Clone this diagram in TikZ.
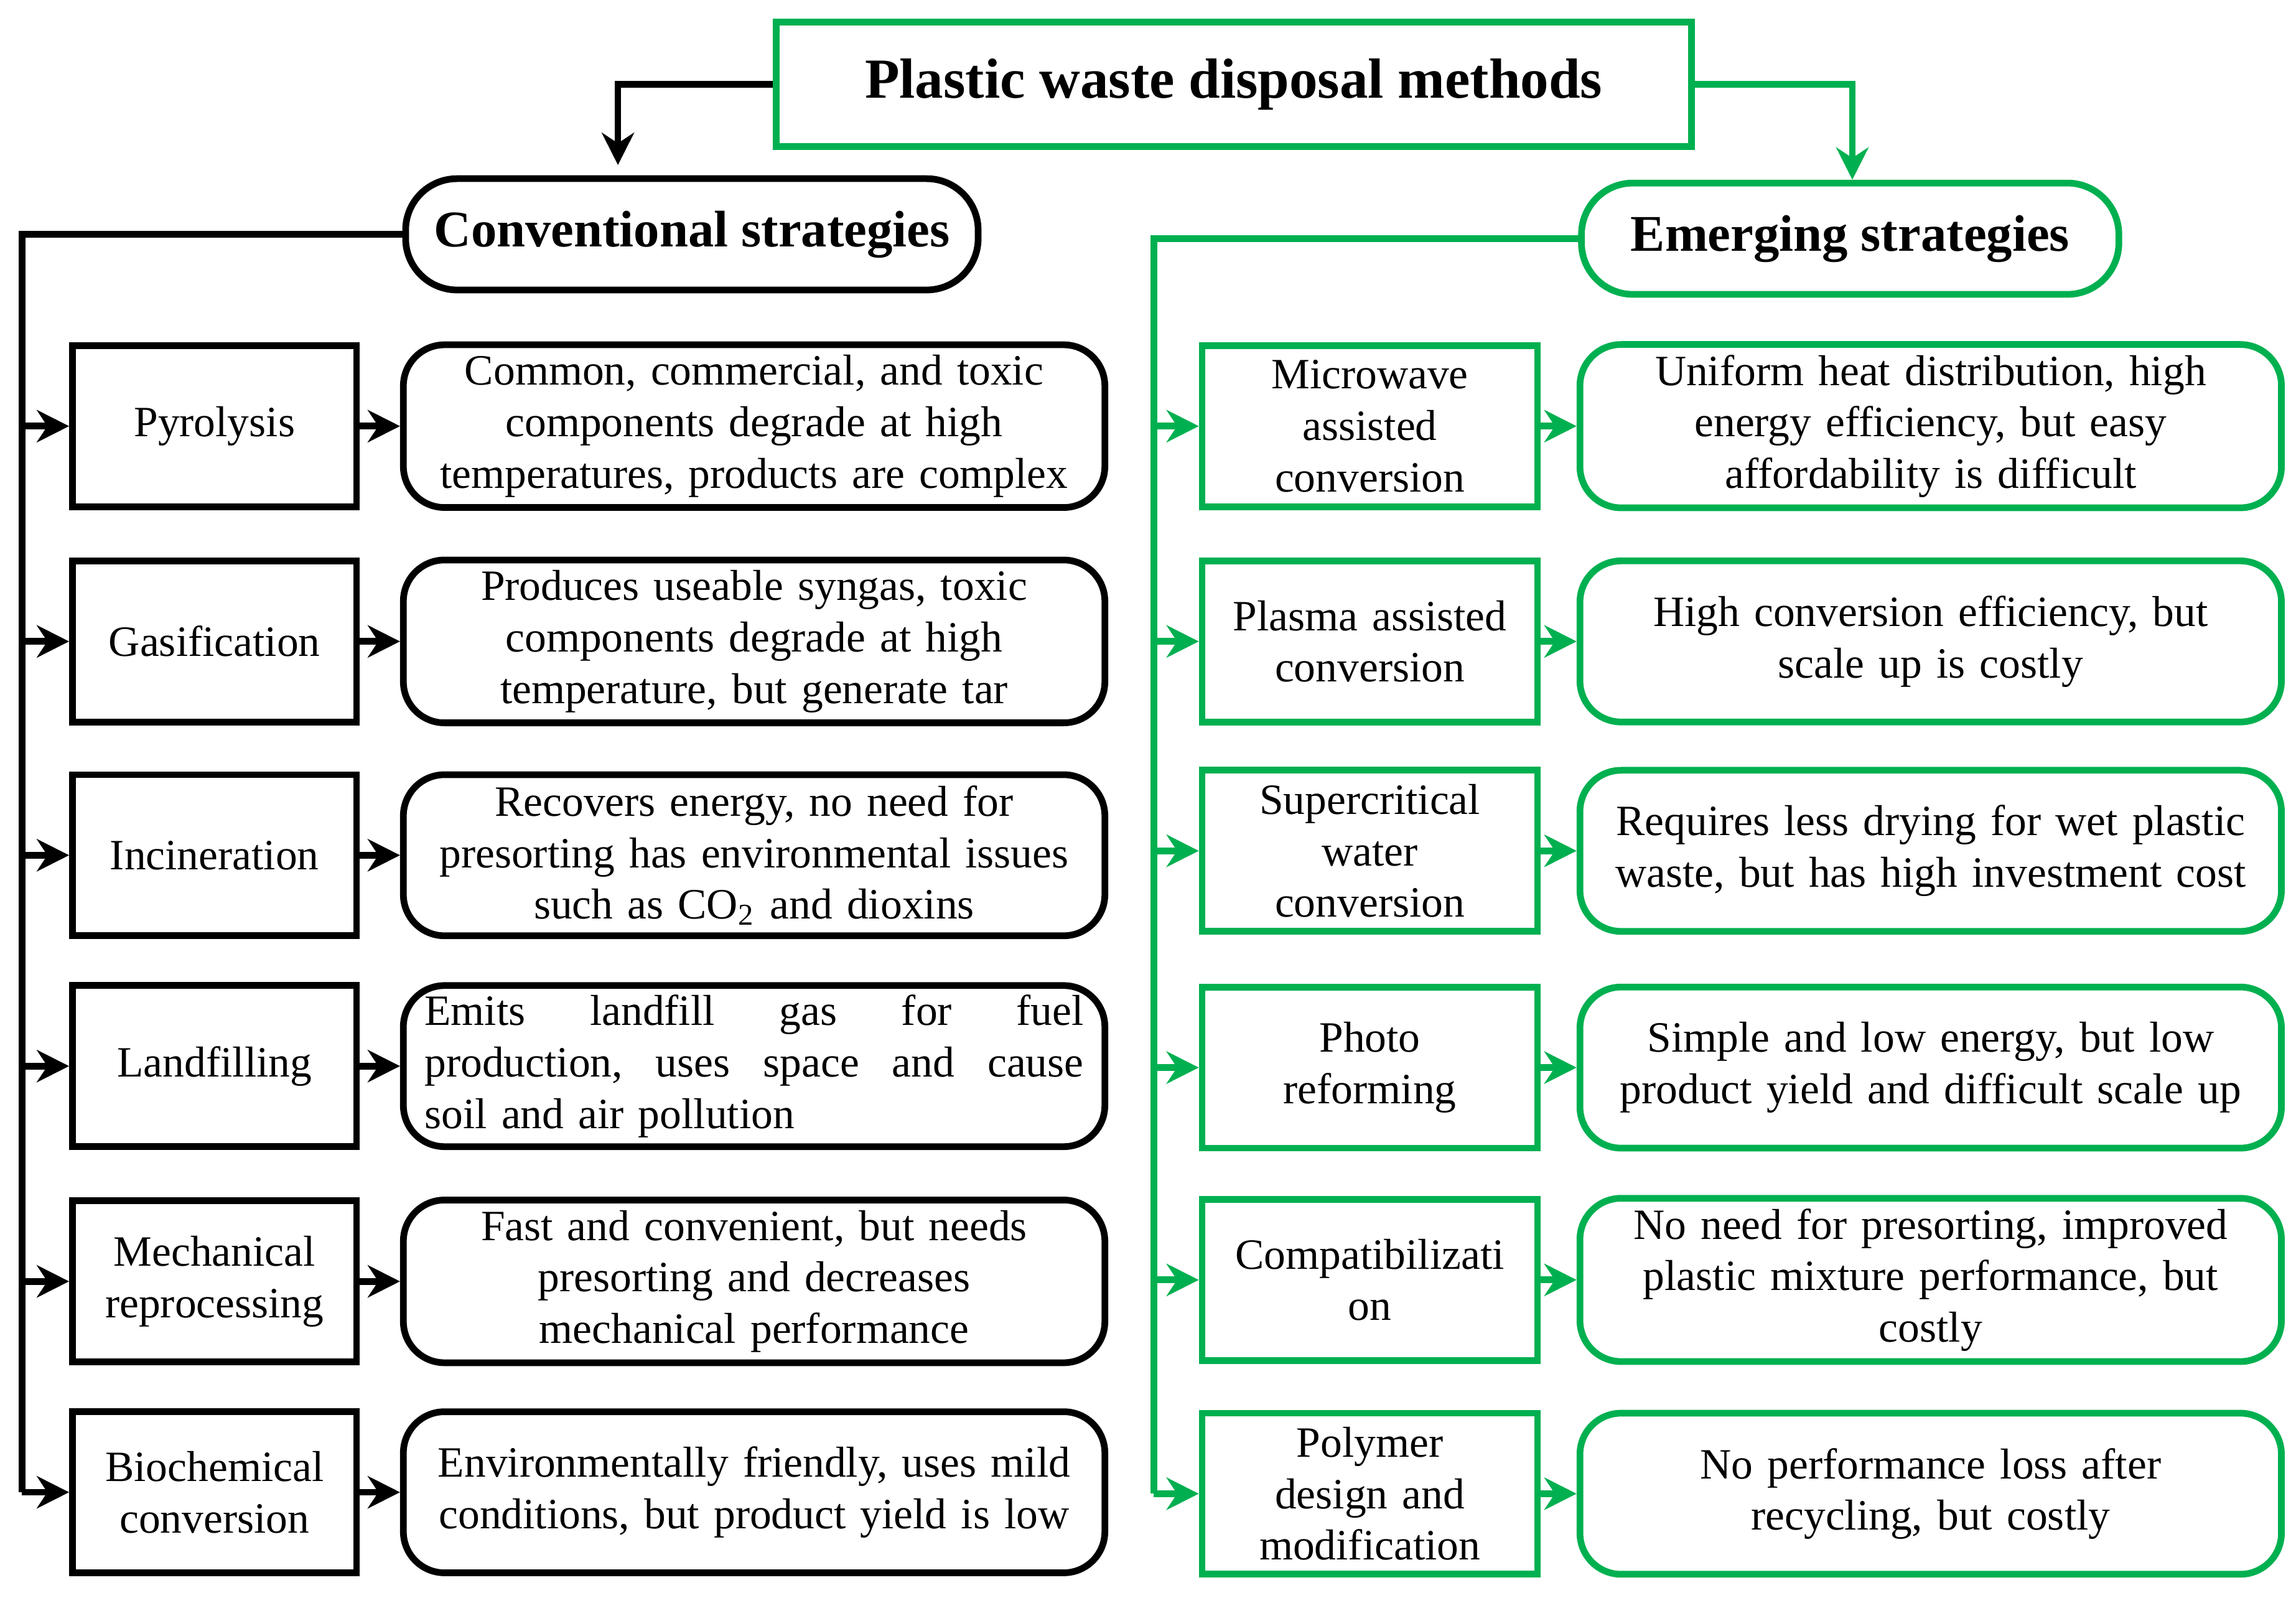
\documentclass[tikz,border=0pt]{standalone}
\usepackage{fontspec}
\setmainfont{Liberation Serif}
\usepackage{xcolor}
\usetikzlibrary{positioning,arrows.meta}
\definecolor{mygreen}{RGB}{0,176,80}

\begin{document}
\begin{tikzpicture}[x=1cm, y=1cm, >={Stealth[length=2.2mm,width=2.2mm]},
  every box/.style={draw, line width=1.3pt, align=center, inner sep=2pt,
    font=\fontsize{8.4}{10}\selectfont},
  method/.style={every box, minimum width=1.85cm, minimum height=1.1cm, text width=1.8cm},
  desc/.style={every box, rounded corners=8pt, minimum width=4.74cm, minimum height=1.1cm, text width=4.65cm},
  rdesc/.style={desc, minimum width=4.77cm},
  rmethod/.style={method, minimum width=2.21cm, text width=2.15cm},
  head/.style={every box, rounded corners=10pt, font=\fontsize{10}{12}\bfseries\selectfont, minimum height=0.76cm},
  gr/.style={draw=mygreen}]

\useasboundingbox (0,0) rectangle (15.68,-10.91);

\node [every box, gr, font=\fontsize{11}{13}\bfseries\selectfont, minimum width=6.25cm, minimum height=0.85cm]
  (title) at (8.425,-0.575) {Plastic waste disposal methods};
\node [head, minimum width=3.91cm] (conv) at (4.725,-1.6) {Conventional strategies};
\node [head, gr, minimum width=3.67cm] (emer) at (12.635,-1.63) {Emerging strategies};

\draw [->, line width=1.3pt] (title.west) -| ([yshift=2pt]conv.north -| 4.22,0);
\draw [->, line width=1.3pt, mygreen] (title.east) -| (emer.north -| 12.65,0);

% conventional side
\foreach \m/\d/\y [count=\i] in {
  Pyrolysis/{Common, commercial, and toxic\\components degrade at high\\temperatures, products are complex}/2.91,
  Gasification/{Produces useable syngas, toxic\\components degrade at high\\temperature, but generate tar}/4.38,
  Incineration/{Recovers energy, no need for\\presorting has environmental issues\\such as CO\textsubscript{2} and dioxins}/5.84,
  Landfilling/{}/7.28,
  Mechanical\\reprocessing/{Fast and convenient, but needs\\presorting and decreases\\mechanical performance}/8.75,
  Biochemical\\conversion/{Environmentally friendly, uses mild\\conditions, but product yield is low}/10.19}
{
  \node [method] (meth-\i) at (1.465,-\y) {\m};
  \node [desc] (desc-\i) at (5.15,-\y) {\d};
  \draw [->, line width=1.3pt] (meth-\i) -- (desc-\i);
}
\node [every box, text width=4.5cm, align=left, draw=none] at (desc-4)
  {Emits\hfill landfill\hfill gas\hfill for\hfill fuel\\
   production,\hfill uses\hfill space\hfill and\hfill cause\\
   soil and air pollution};

\coordinate (lspine-top) at (0.15,-1.6);
\coordinate (lspine-bot) at (0.15,-10.19);
\draw [line width=1.3pt] (conv.west) -- (lspine-top) -- (lspine-bot);
\foreach \i in {1,...,6}
  \draw [->, line width=1.3pt] (lspine-top |- meth-\i.west) -- (meth-\i.west);

% emerging side
\foreach \m/\d/\y [count=\i] in {
  Microwave\\assisted\\conversion/{Uniform heat distribution, high\\energy efficiency, but easy\\affordability is difficult}/2.91,
  Plasma assisted\\conversion/{High conversion efficiency, but\\scale up is costly}/4.38,
  Supercritical\\water\\conversion/{Requires less drying for wet plastic\\waste, but has high investment cost}/5.81,
  Photo\\reforming/{Simple and low energy, but low\\product yield and difficult scale up}/7.29,
  Compatibilizati\\on/{No need for presorting, improved\\plastic mixture performance, but\\costly}/8.74,
  Polymer\\design and\\modification/{No performance loss after\\recycling, but costly}/10.2}
{
  \node [rmethod, gr] (rmeth-\i) at (9.355,-\y) {\m};
  \node [rdesc, gr] (rdesc-\i) at (13.185,-\y) {\d};
  \draw [->, line width=1.3pt, mygreen] (rmeth-\i) -- (rdesc-\i);
}

\coordinate (rspine-top) at (7.88,-1.63);
\coordinate (rspine-bot) at (7.88,-10.2);
\draw [line width=1.3pt, mygreen] (emer.west) -- (rspine-top) -- (rspine-bot);
\foreach \i in {1,...,6}
  \draw [->, line width=1.3pt, mygreen] (rspine-top |- rmeth-\i.west) -- (rmeth-\i.west);

\end{tikzpicture}
\end{document}
